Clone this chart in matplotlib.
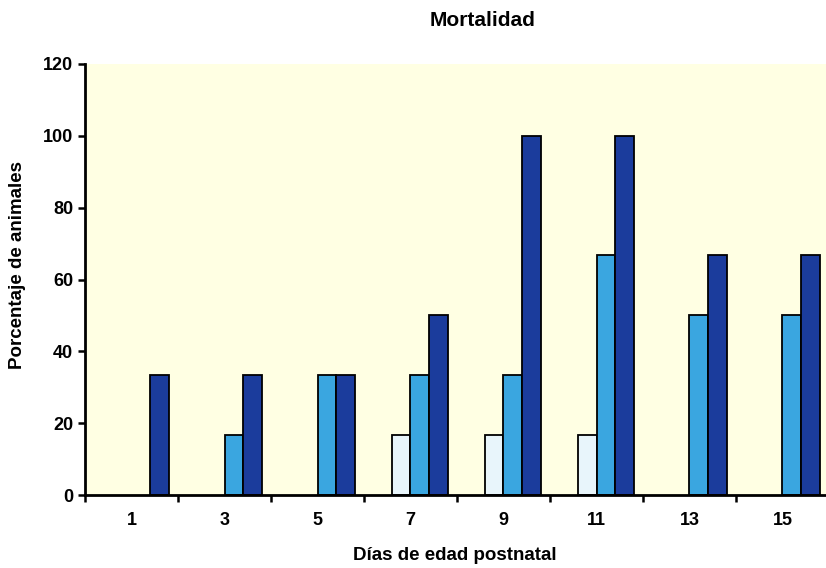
import matplotlib.pyplot as plt
import numpy as np

plt.rcParams["font.family"] = ["Liberation Sans", "DejaVu Sans"]
plt.rcParams["font.weight"] = "bold"

dias = ["1", "3", "5", "7", "9", "11", "13", "15"]
serie_a = [0, 0, 0, 16.7, 16.7, 16.7, 0, 0]
serie_b = [0, 16.7, 33.3, 33.3, 33.3, 66.7, 50, 50]
serie_c = [33.3, 33.3, 33.3, 50, 100, 100, 66.7, 66.7]

colores = ["#E8F5FB", "#3AA6E0", "#1B3C9C"]

fig = plt.figure(figsize=(8.26, 5.68), dpi=100)
ax = fig.add_axes([85 / 826, 73 / 568, 744 / 826, 431 / 568])
ax.set_facecolor("#FFFFE3")

x = np.arange(len(dias))
w = 0.2
for k, (vals, c) in enumerate(zip([serie_a, serie_b, serie_c], colores)):
    vals = np.array(vals)
    sel = vals > 0  # no dibujar barras vacías
    ax.bar(x[sel] + (k - 0.5) * w, vals[sel], width=w, color=c,
           edgecolor="black", linewidth=1.3, zorder=3)

ax.set_xlim(-0.5, 7.5)
ax.set_ylim(0, 120)
ax.set_yticks(range(0, 121, 20))
ax.set_xticks(x)
ax.set_xticklabels(dias)
ax.set_xticks(np.arange(-0.5, 8, 1), minor=True)
ax.tick_params(axis="x", which="major", length=0, pad=12, labelsize=13)
ax.tick_params(axis="x", which="minor", length=5, width=1.8, direction="out")
ax.tick_params(axis="y", length=5, width=1.8, direction="out", labelsize=13)

for s in ["top", "right"]:
    ax.spines[s].set_visible(False)
for s in ["left", "bottom"]:
    ax.spines[s].set_linewidth(2)
    ax.spines[s].set_zorder(4)

fig.text(483 / 826, 1 - 20 / 568, "Mortalidad", ha="center", va="center",
         fontsize=15, fontweight="bold")
fig.text(18 / 826, 1 - 265 / 568, "Porcentaje de animales", ha="center",
         va="center", rotation=90, fontsize=13.5, fontweight="bold")
fig.text(455 / 826, 1 - 556 / 568, "Días de edad postnatal", ha="center",
         va="center", fontsize=13.5, fontweight="bold")

fig.savefig("out.png", dpi=100)
